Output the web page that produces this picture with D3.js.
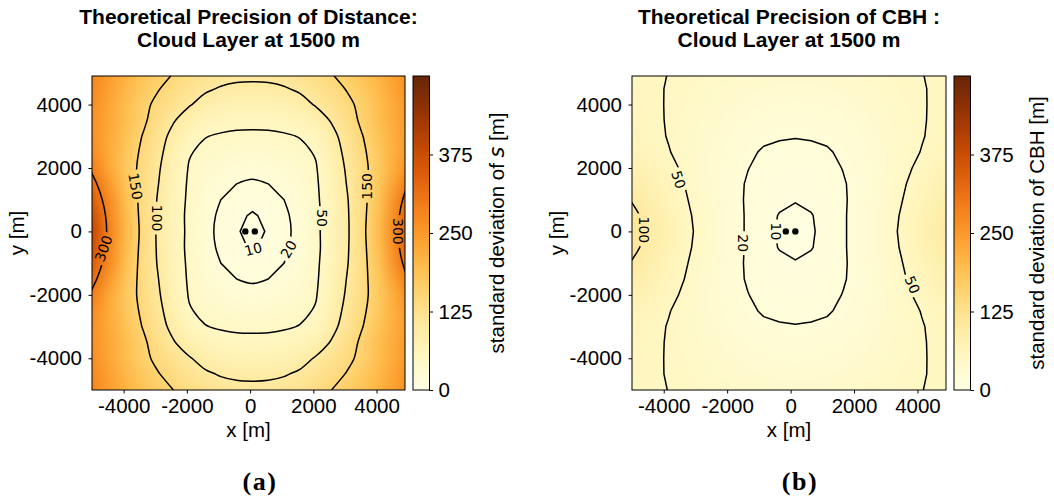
<!DOCTYPE html>
<html>
<head>
<meta charset="utf-8">
<script src="https://cdn.jsdelivr.net/npm/d3@7"></script>
<style>
html,body{margin:0;padding:0;background:#fff;}
svg{display:block;}
text{font-family:"Liberation Sans",Arial,sans-serif;fill:#000;white-space:pre;}
</style>
</head>
<body>
<svg id="chart" width="1054" height="500" xmlns="http://www.w3.org/2000/svg"></svg>
<script>
// ---------------- data ----------------
// grid spacing (m) and node distances from the field's symmetry axis
const gridStep = 500;
const distX = [0,500,1000,1500,2000,2500,3000,3500,4000,4500,5000,5500];
const rowY  = [0,500,1000,1500,2000,2500,3000,3500,4000,4500,5000];
const centerA = 75;   // x of symmetry axis, panel (a)
const centerB = 150;  // x of symmetry axis, panel (b)

// std of distance s [m]; rows = rowY, columns = distX (one quadrant)
const distanceStd = [
  [  3,  12,  16,  25,  44,  65,  95, 140, 200, 280, 370, 470],
  [  9,  12,  17,  26,  44,  64,  96, 138, 196, 275, 360, 455],
  [ 13,  15,  20,  28,  45,  66,  98, 136, 190, 265, 335, 420],
  [ 18,  20,  24,  32,  46,  69, 102, 137, 180, 245, 310, 380],
  [ 25,  26,  30,  37,  48,  72, 106, 138, 175, 225, 280, 345],
  [ 34,  35,  38,  44,  52,  78, 112, 143, 178, 220, 262, 320],
  [ 45,  45,  47,  51,  62,  88, 118, 150, 185, 222, 258, 310],
  [ 57,  58,  61,  67,  80, 103, 130, 160, 192, 226, 258, 305],
  [ 72,  73,  77,  86, 103, 122, 140, 163, 194, 230, 262, 305],
  [ 92,  93,  97, 106, 118, 134, 153, 175, 203, 235, 268, 308],
  [110, 111, 116, 124, 136, 150, 166, 186, 212, 242, 275, 312]
];
// std of cloud base height [m]; same layout
const cbhStd = [
  [ 3,    9,   13,   18.5, 25,   34,   44,   58,   75,   88,   106,  122],
  [ 6,    9.5, 13.5, 18.5, 25,   33,   43,   56,   72,   87,   103,  119],
  [11,   12,   14.5, 18.5, 24,   31,   40,   53,   67,   80,    94,  108],
  [13,   14,   16,   19,   23.5, 30,   38,   50,   62,   73,    84,   96],
  [15,   15.5, 17,   20.3, 24,   30,   37,   46,   57,   66,    75,   85],
  [17,   17.5, 18.8, 22,   26,   31,   37,   44,   51,   59,    67,   75],
  [20.5, 21,   22,   24.5, 28,   32.5, 37.5, 43,   49,   55,    61,   68],
  [24,   24.5, 25.5, 27.5, 30.5, 34.5, 39,   43.5, 48.5, 54,    59.5, 65],
  [28,   28.5, 29.5, 31,   33.5, 37,   41,   45,   48.5, 53.5,  58,   63],
  [32,   32.5, 33.5, 35,   37,   40,   43.5, 46.5, 49,   52.5,  56,   60],
  [36,   36.5, 37.5, 39,   41,   43.5, 46,   48,   49.8, 52.5,  55,   58]
];

const levelsA = [10, 20, 50, 100, 150, 300];
const levelsB = [10, 20, 50, 100];
const cameraX = [-150, 150];
const cameraY = [0, 0];
const axisTicks = [-4000, -2000, 0, 2000, 4000];
const axisDomain = [-5000, 4900];
const colorTicks = [0, 125, 250, 375];
const colorDomain = [0, 500];

// inline contour labels (level, data x, data y, angle)
const labelLevelsA = [10, 20, 50, 100, 150, 150, 300, 300];
const labelXA = [100, 1220, 2270, -2940, -3625, 3700, -4633, 4690];
const labelYA = [-560, -560, 420, 420, 1420, 1420, -537, 0];
const labelRotA = [-15, -60, 90, 90, 80, -90, -70, 90];
const labelLevelsB = [10, 20, 50, 100, 50];
const labelXB = [-474, -1494, -3530, -4630, 3840];
const labelYB = [0, -370, 1630, 50, -1680];
const labelRotB = [90, 90, 72, 90, 67];

// ---------------- drawing ----------------
const svg = d3.select("#chart");
const defs = svg.append("defs");
const cmap = d3.interpolateYlOrBr;

function fullGrid(quad, center) {
  const xNodes = distX.slice(1).reverse().map(d => center - d).concat(distX.map(d => center + d));
  const yNodes = rowY.slice().reverse().concat(rowY.slice(1).map(d => -d));
  const values = [];
  yNodes.forEach(yv => {
    const yi = rowY.indexOf(Math.abs(yv));
    xNodes.forEach(xv => {
      const xi = distX.indexOf(Math.round(Math.abs(xv - center)));
      values.push(quad[yi][xi]);
    });
  });
  return {xNodes, yNodes, nx: xNodes.length, ny: yNodes.length, values};
}

// shared colorbar gradient
const grad = defs.append("linearGradient").attr("id", "cbgrad")
  .attr("x1", 0).attr("y1", 1).attr("x2", 0).attr("y2", 0);
d3.range(0, 1.0001, 0.025).forEach(t => grad.append("stop").attr("offset", t).attr("stop-color", cmap(t)));

function drawPanel(cfg) {
  const P = cfg;
  const x = d3.scaleLinear().domain(axisDomain).range([P.px0, P.px1]);
  const y = d3.scaleLinear().domain(axisDomain).range([P.py1, P.py0]);
  const G = fullGrid(P.quad, P.center);

  defs.append("clipPath").attr("id", "clip" + P.id)
    .append("rect").attr("x", P.px0).attr("y", P.py0)
    .attr("width", P.px1 - P.px0).attr("height", P.py1 - P.py0);

  const g = svg.append("g");
  const plot = g.append("g").attr("clip-path", `url(#clip${P.id})`);

  // heat map image
  const cv = document.createElement("canvas");
  cv.width = G.nx; cv.height = G.ny;
  const ctx = cv.getContext("2d");
  const img = ctx.createImageData(G.nx, G.ny);
  G.values.forEach((v, i) => {
    const c = d3.rgb(cmap(Math.max(0, Math.min(1, v / colorDomain[1]))));
    img.data[4 * i] = c.r; img.data[4 * i + 1] = c.g; img.data[4 * i + 2] = c.b; img.data[4 * i + 3] = 255;
  });
  ctx.putImageData(img, 0, 0);
  const ix0 = x(G.xNodes[0] - gridStep / 2), ix1 = x(G.xNodes[G.nx - 1] + gridStep / 2);
  const iy0 = y(G.yNodes[0] + gridStep / 2), iy1 = y(G.yNodes[G.ny - 1] - gridStep / 2);
  plot.append("image").attr("href", cv.toDataURL())
    .attr("x", ix0).attr("y", iy0).attr("width", ix1 - ix0).attr("height", iy1 - iy0)
    .attr("preserveAspectRatio", "none").style("image-rendering", "auto");

  // label mask
  const mask = defs.append("mask").attr("id", "mask" + P.id).attr("maskUnits", "userSpaceOnUse")
    .attr("x", 0).attr("y", 0).attr("width", 1054).attr("height", 500);
  mask.append("rect").attr("x", 0).attr("y", 0).attr("width", 1054).attr("height", 500).attr("fill", "white");

  // contours
  const cg = plot.append("g").attr("mask", `url(#mask${P.id})`)
    .attr("fill", "none").attr("stroke", "#000").attr("stroke-width", 1.5).attr("stroke-linejoin", "round");
  const contours = d3.contours().size([G.nx, G.ny]).thresholds(P.levels)(G.values);
  const toPt = p => [x(G.xNodes[0] + (p[0] - 0.5) * gridStep), y(G.yNodes[0] - (p[1] - 0.5) * gridStep)];
  const isB = p => p[0] <= 0 || p[0] >= G.nx || p[1] <= 0 || p[1] >= G.ny;
  contours.forEach(ct => {
    const curveOpen = (P.smooth && ct.value !== 10) ? d3.curveCatmullRom.alpha(0.5) : d3.curveLinear;
    const curveClosed = (P.smooth && ct.value !== 10) ? d3.curveCatmullRomClosed.alpha(0.5) : d3.curveLinearClosed;
    ct.coordinates.forEach(poly => poly.forEach(ring => {
      let pts = ring.slice(0, -1);
      const bi = pts.findIndex(isB);
      if (bi < 0) {
        cg.append("path").attr("d", d3.line().curve(curveClosed)(pts.map(toPt)));
      } else {
        pts = pts.slice(bi).concat(pts.slice(0, bi));
        pts.push(pts[0]);
        let run = [];
        pts.forEach(p => {
          if (isB(p)) {
            if (run.length > 1) cg.append("path").attr("d", d3.line().curve(curveOpen)(run.map(toPt)));
            run = [];
          } else run.push(p);
        });
      }
    }));
  });

  // contour labels
  const lg = plot.append("g");
  P.labLevels.forEach((lv, i) => {
    const sx = x(P.labX[i]), sy = y(P.labY[i]);
    const tr = `translate(${sx},${sy}) rotate(${P.labRot[i]})`;
    const t = lg.append("text").attr("transform", tr).attr("text-anchor", "middle").attr("dy", "0.36em")
      .style("font-family", "'DejaVu Sans'").style("font-size", "14px").text(lv);
    const w = t.node().getComputedTextLength();
    mask.append("rect").attr("transform", tr).attr("x", -w / 2 - 3).attr("y", -8)
      .attr("width", w + 6).attr("height", 16).attr("fill", "black");
  });

  // cameras
  plot.selectAll("circle.cam").data(cameraX).join("circle").attr("class", "cam")
    .attr("cx", (d) => x(d)).attr("cy", (d, i) => y(cameraY[i])).attr("r", 3.2).attr("fill", "#000");

  // frame
  g.append("rect").attr("x", P.px0).attr("y", P.py0).attr("width", P.px1 - P.px0).attr("height", P.py1 - P.py0)
    .attr("fill", "none").attr("stroke", "#000").attr("stroke-width", 1);

  // axes
  const fmt = d => String(d);
  const xa = g.append("g").attr("transform", `translate(0,${P.py1})`)
    .call(d3.axisBottom(x).tickValues(axisTicks).tickSize(3.5).tickPadding(4.5).tickFormat(fmt));
  const ya = g.append("g").attr("transform", `translate(${P.px0},0)`)
    .call(d3.axisLeft(y).tickValues(axisTicks).tickSize(3.5).tickPadding(6.5).tickFormat(fmt));
  [xa, ya].forEach(a => {
    a.select(".domain").remove();
    a.selectAll("line").attr("stroke", "#000").attr("stroke-width", 1);
    a.selectAll("text").style("font-family", "'Liberation Sans'").style("font-size", "20.5px").attr("fill", "#000");
  });

  // axis labels
  const cx = (P.px0 + P.px1) / 2, cy = (P.py0 + P.py1) / 2;
  g.append("text").attr("x", cx).attr("y", 436.5).attr("text-anchor", "middle").style("font-size", "20.5px").text("x [m]");
  g.append("text").attr("transform", `translate(${P.px0 - 68},${cy}) rotate(-90)`).attr("text-anchor", "middle")
    .style("font-size", "20.5px").text("y [m]");

  // titles
  g.append("text").attr("x", cx).attr("y", 24).attr("text-anchor", "middle")
    .style("font-size", "21px").style("font-weight", "bold").text(P.title1);
  g.append("text").attr("x", cx).attr("y", 47).attr("text-anchor", "middle")
    .style("font-size", "21px").style("font-weight", "bold").text(P.title2);

  // colorbar
  const cs = d3.scaleLinear().domain(colorDomain).range([P.py1, P.py0]);
  g.append("rect").attr("x", P.cb0).attr("y", P.py0).attr("width", P.cb1 - P.cb0).attr("height", P.py1 - P.py0)
    .attr("fill", "url(#cbgrad)").attr("stroke", "#000").attr("stroke-width", 1);
  const ca = g.append("g").attr("transform", `translate(${P.cb1},0)`)
    .call(d3.axisRight(cs).tickValues(colorTicks).tickSize(3.5).tickPadding(5.5).tickFormat(fmt));
  ca.select(".domain").remove();
  ca.selectAll("line").attr("stroke", "#000").attr("stroke-width", 1);
  ca.selectAll("text").style("font-family", "'Liberation Sans'").style("font-size", "20.5px").attr("fill", "#000");
  const cbt = g.append("text").attr("transform", `translate(${P.cbLabelX},${cy}) rotate(-90)`)
    .attr("text-anchor", "middle").style("font-size", "20.5px");
  cbt.append("tspan").text(P.cbText1);
  if (P.cbItalic) cbt.append("tspan").style("font-style", "italic").style("font-family", "'DejaVu Sans'").text(P.cbItalic);
  cbt.append("tspan").text(P.cbText2);

  // sub-caption
  g.append("text").attr("x", P.capX).attr("y", 490).attr("text-anchor", "middle")
    .style("font-family", "'Liberation Serif'").style("font-weight", "bold").style("font-size", "26px")
    .style("letter-spacing", "1.5px").text(P.caption);
}

drawPanel({
  id: "A", quad: distanceStd, center: centerA, levels: levelsA, smooth: true,
  labLevels: labelLevelsA, labX: labelXA, labY: labelYA, labRot: labelRotA,
  px0: 92, px1: 405, py0: 76, py1: 390, cb0: 413, cb1: 429.5,
  title1: "Theoretical Precision of Distance:", title2: "Cloud Layer at 1500 m",
  cbText1: "standard deviation of ", cbItalic: "s", cbText2: " [m]", cbLabelX: 504,
  caption: "(a)", capX: 260
});
drawPanel({
  id: "B", quad: cbhStd, center: centerB, levels: levelsB, smooth: false,
  labLevels: labelLevelsB, labX: labelXB, labY: labelYB, labRot: labelRotB,
  px0: 632, px1: 946, py0: 76, py1: 390, cb0: 954, cb1: 970.5,
  title1: "Theoretical Precision of CBH :", title2: "Cloud Layer at 1500 m",
  cbText1: "standard deviation of CBH [m]", cbItalic: null, cbText2: "", cbLabelX: 1044,
  caption: "(b)", capX: 800
});
</script>
</body>
</html>
